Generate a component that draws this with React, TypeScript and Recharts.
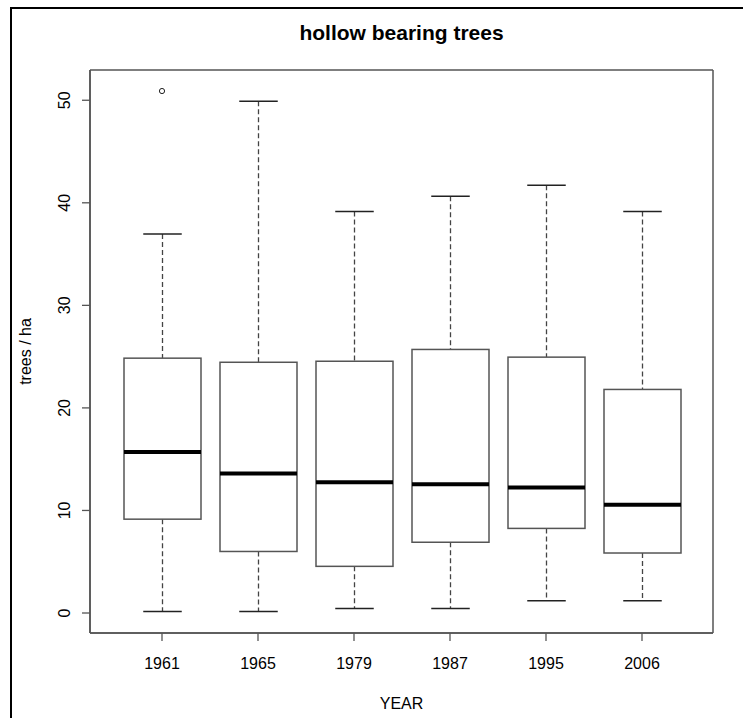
import React from "react"
import { Bar, CartesianGrid, ComposedChart, Scatter, XAxis, YAxis } from "recharts"

const years = ["1961", "1965", "1979", "1987", "1995", "2006"]
const whiskerLow = [0.15, 0.15, 0.45, 0.45, 1.2, 1.2]
const lowerQuartile = [9.15, 6.0, 4.55, 6.9, 8.25, 5.85]
const median = [15.7, 13.6, 12.75, 12.55, 12.25, 10.55]
const upperQuartile = [24.85, 24.45, 24.55, 25.7, 24.95, 21.8]
const whiskerHigh = [36.95, 49.9, 39.15, 40.65, 41.7, 39.15]

const outlierYears = ["1961"]
const outlierValues = [50.9]

const yTicks = [0, 10, 20, 30, 40, 50]

const data = years.map((year, i) => ({
  year,
  box: [lowerQuartile[i], upperQuartile[i]],
  low: whiskerLow[i],
  q1: lowerQuartile[i],
  med: median[i],
  q3: upperQuartile[i],
  high: whiskerHigh[i],
}))

const outliers = outlierYears.map((year, i) => ({ year, value: outlierValues[i] }))

const font = "'Liberation Sans', Arial, Helvetica, sans-serif"
const frame = "#555555"

// draws the whole box + whiskers from the bar rectangle that spans q1..q3
const BoxShape = (props: any) => {
  const { x, y, width, height, payload } = props
  const top = Math.min(y, y + height)
  const h = Math.abs(height)
  const ppu = h / (payload.q3 - payload.q1)
  const toY = (v: number) => top + (payload.q3 - v) * ppu
  const cx = x + width / 2
  const capHalf = width / 4
  return (
    <g>
      <line x1={cx} x2={cx} y1={toY(payload.high)} y2={toY(payload.q3)} stroke="#444" strokeWidth={1.3} strokeDasharray="5 3" />
      <line x1={cx} x2={cx} y1={toY(payload.q1)} y2={toY(payload.low)} stroke="#444" strokeWidth={1.3} strokeDasharray="5 3" />
      <line x1={cx - capHalf} x2={cx + capHalf} y1={toY(payload.high)} y2={toY(payload.high)} stroke="#222" strokeWidth={1.5} />
      <line x1={cx - capHalf} x2={cx + capHalf} y1={toY(payload.low)} y2={toY(payload.low)} stroke="#222" strokeWidth={1.5} />
      <rect x={x} y={top} width={width} height={h} fill="#fff" stroke={frame} strokeWidth={1.5} />
      <line x1={x} x2={x + width} y1={toY(payload.med)} y2={toY(payload.med)} stroke="#000" strokeWidth={4} />
    </g>
  )
}

const YTick = (props: any) => {
  const { y, payload } = props
  return (
    <text x={70} y={y} transform={`rotate(-90 70 ${y})`} textAnchor="middle" fontSize={16} fontFamily={font} fill="#000">
      {payload.value}
    </text>
  )
}

const XTick = (props: any) => {
  const { x, y, payload } = props
  return (
    <text x={x} y={y} dy="0.71em" textAnchor="middle" fontSize={16} fontFamily={font} fill="#000">
      {payload.value}
    </text>
  )
}

const YLabel = (props: any) => {
  const vb = props.viewBox || { y: 70, height: 563 }
  const cy = vb.y + vb.height / 2
  return (
    <text x={31} y={cy} transform={`rotate(-90 31 ${cy})`} textAnchor="middle" fontSize={16} fontFamily={font} fill="#000">
      trees / ha
    </text>
  )
}

const XLabel = (props: any) => {
  const vb = props.viewBox || { x: 90, width: 623 }
  return (
    <text x={vb.x + vb.width / 2} y={709} textAnchor="middle" fontSize={16} fontFamily={font} fill="#000">
      YEAR
    </text>
  )
}

export default function App() {
  return (
    <div style={{ position: "absolute", left: 0, top: 0, width: 743, height: 718, background: "#fff", overflow: "hidden" }}>
      <div style={{ position: "absolute", left: 10, top: 7, width: 800, height: 800, border: "2px solid #000" }} />
      <svg width={743} height={60} style={{ position: "absolute", left: 0, top: 0 }}>
        <text x={401.5} y={40} textAnchor="middle" fontSize={21} fontWeight="bold" fontFamily={font} fill="#000">
          hollow bearing trees
        </text>
      </svg>
      <div style={{ position: "absolute", left: 0, top: 0 }}>
        <ComposedChart width={743} height={718} data={data} margin={{ top: 70, right: 30, bottom: 0, left: 0 }}>
          <CartesianGrid
            stroke={frame}
            strokeWidth={1.5}
            horizontalCoordinatesGenerator={({ offset }: any) => [offset.top, offset.top + offset.height]}
            verticalCoordinatesGenerator={({ offset }: any) => [offset.left, offset.left + offset.width]}
          />
          <XAxis
            dataKey="year"
            allowDuplicatedCategory={false}
            height={85}
            padding={{ left: 24, right: 23 }}
            tickSize={8}
            tickMargin={17}
            tick={<XTick />}
            tickLine={{ stroke: frame, strokeWidth: 1.3 }}
            axisLine={{ stroke: frame, strokeWidth: 1.5 }}
            label={<XLabel />}
          />
          <YAxis
            type="number"
            domain={[-1.95, 52.95]}
            ticks={yTicks}
            width={90}
            tickSize={8}
            tick={<YTick />}
            tickLine={{ stroke: frame, strokeWidth: 1.3 }}
            axisLine={{ stroke: frame, strokeWidth: 1.5 }}
            allowDataOverflow
            label={<YLabel />}
          />
          <Bar dataKey="box" barSize={77} shape={<BoxShape />} isAnimationActive={false} />
          <Scatter
            data={outliers}
            dataKey="value"
            isAnimationActive={false}
            shape={(p: any) => <circle cx={p.cx} cy={p.cy} r={2.6} fill="#fff" stroke="#222" strokeWidth={1} />}
          />
        </ComposedChart>
      </div>
    </div>
  )
}
